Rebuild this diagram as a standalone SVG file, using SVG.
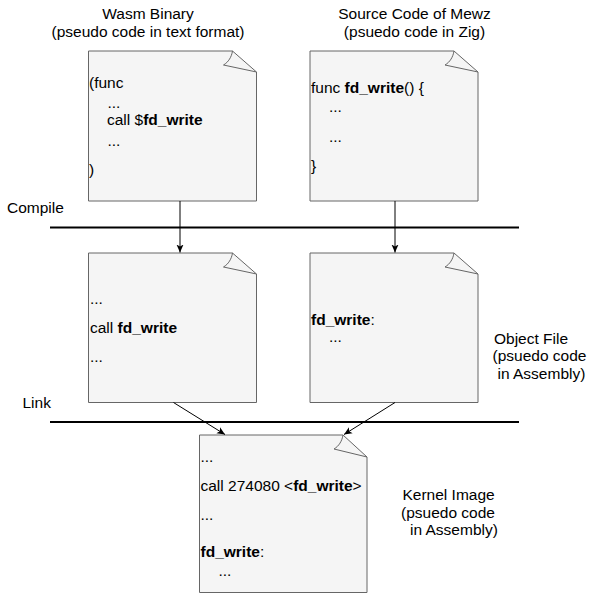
<svg xmlns="http://www.w3.org/2000/svg" width="589" height="594" viewBox="0 0 589 594">
<style>
text{font-family:"Liberation Sans",Arial,sans-serif;font-size:15.5px;fill:#000}
.b{font-weight:bold}
.doc{fill:#f5f5f5;stroke:#666666;stroke-width:1}
.curl{fill:none;stroke:#666666;stroke-width:1}
.edge{fill:none;stroke:#000;stroke-width:1}
.bar{stroke:#000;stroke-width:2}
.c{text-anchor:middle}
</style>
<defs>
<marker id="arr" markerUnits="userSpaceOnUse" markerWidth="10" markerHeight="10" refX="8" refY="4" orient="auto">
<path d="M0,0.5 L8,4 L0,7.5 L2,4 Z" fill="#000"/>
</marker>
</defs>
<rect width="589" height="594" fill="#ffffff"/>
<g id="phases">
<line class="bar" x1="50" y1="227.5" x2="519" y2="227.5"/>
<line class="bar" x1="50" y1="422" x2="519" y2="422"/>
<text x="7" y="213">Compile</text>
<text x="22.5" y="407.5">Link</text>
</g>
<g id="labels">
<text class="c" x="148" y="18.5">Wasm Binary</text>
<text class="c" x="148" y="37">(pseudo code in text format)</text>
<text class="c" x="414.5" y="18.5">Source Code of Mewz</text>
<text class="c" x="414.5" y="37">(psuedo code in Zig)</text>
<text x="494" y="343.5">Object File</text>
<text x="492.5" y="361">(psuedo code</text>
<text x="497.5" y="378.5">in Assembly)</text>
<text x="402.5" y="500">Kernel Image</text>
<text x="401" y="517.5">(psuedo code</text>
<text x="410" y="535">in Assembly)</text>
</g>
<g id="wasm-binary">
<path class="doc" d="M88.5,51 H232.5 L256.5,72 V201 H88.5 Z"/>
<path class="curl" d="M232.5,51 C231.5,57 228.5,62 223.5,65 L256.5,72"/>
<text x="89" y="87.5">(func</text>
<text x="107.5" y="108">...</text>
<text x="107" y="125">call $<tspan class="b">fd_write</tspan></text>
<text x="107.5" y="146">...</text>
<text x="89" y="174.5">)</text>
</g>
<g id="mewz-source">
<path class="doc" d="M310,51 H454 L478,72 V201 H310 Z"/>
<path class="curl" d="M454,51 C453,57 450,62 445,65 L478,72"/>
<text x="311" y="93">func <tspan class="b">fd_write</tspan>() {</text>
<text x="329" y="111.5">...</text>
<text x="329" y="141.5">...</text>
<text x="311" y="170.5">}</text>
</g>
<g id="wasm-object">
<path class="doc" d="M88.5,253 H232.5 L256.5,274 V402.5 H88.5 Z"/>
<path class="curl" d="M232.5,253 C231.5,259 228.5,264 223.5,267 L256.5,274"/>
<text x="90" y="304">...</text>
<text x="90" y="332.5">call <tspan class="b">fd_write</tspan></text>
<text x="90" y="361.5">...</text>
</g>
<g id="mewz-object">
<path class="doc" d="M310,253 H454 L478,274 V402.5 H310 Z"/>
<path class="curl" d="M454,253 C453,259 450,264 445,267 L478,274"/>
<text x="311" y="325"><tspan class="b">fd_write</tspan>:</text>
<text x="329" y="341.5">...</text>
</g>
<g id="kernel-image">
<path class="doc" d="M199.5,435 H343 L367,457 V592.5 H199.5 Z"/>
<path class="curl" d="M343,435 C342,441 339,446 334,449 L367,457"/>
<text x="200.5" y="461.5">...</text>
<text x="200.5" y="490.5">call 274080 &lt;<tspan class="b">fd_write</tspan>&gt;</text>
<text x="200.5" y="520">...</text>
<text x="200.5" y="556.5"><tspan class="b">fd_write</tspan>:</text>
<text x="218.5" y="575.5">...</text>
</g>
<g id="connectors">
<line class="edge" x1="180" y1="201" x2="180" y2="252.5" marker-end="url(#arr)"/>
<line class="edge" x1="395" y1="201" x2="395" y2="252.5" marker-end="url(#arr)"/>
<line class="edge" x1="173.5" y1="402.5" x2="225" y2="434.5" marker-end="url(#arr)"/>
<line class="edge" x1="395" y1="402.5" x2="344" y2="434.5" marker-end="url(#arr)"/>
</g>
</svg>
